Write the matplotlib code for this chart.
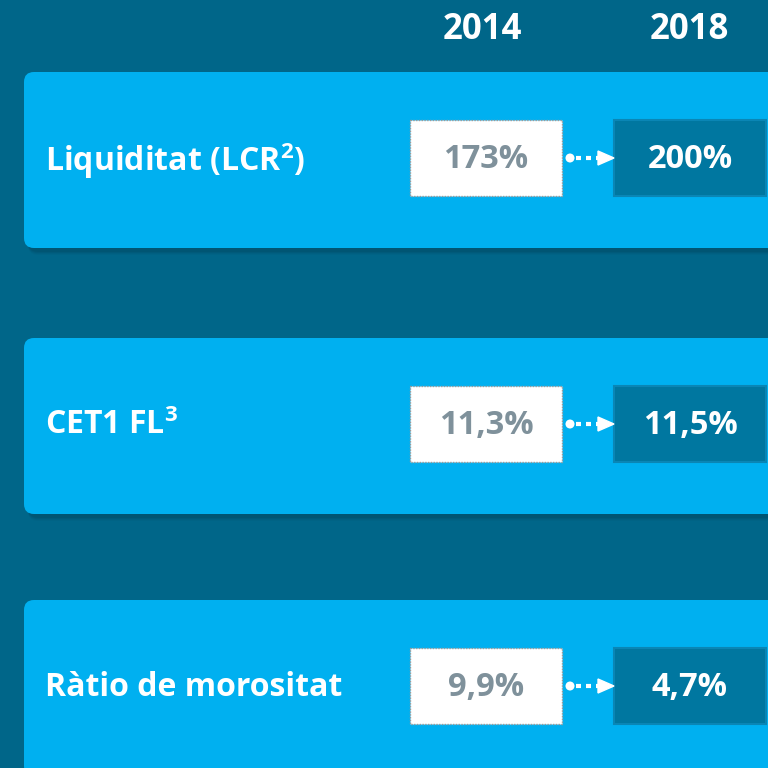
import matplotlib
matplotlib.use("Agg")
import matplotlib.pyplot as plt
from matplotlib.patches import FancyBboxPatch, Rectangle, Circle

# Data
years = ["2014", "2018"]
categories = ["Liquiditat (LCR$^2$)", "CET1 FL$^3$", "Ràtio de morositat"]
values_2014 = ["173%", "11,3%", "9,9%"]
values_2018 = ["200%", "11,5%", "4,7%"]

BG = "#006689"
PANEL = "#00b0f0"
DARK = "#0077a0"
GRAY_TXT = "#7f919b"
FONT = ["Open Sans", "DejaVu Sans"]

plt.rcParams["mathtext.fontset"] = "custom"
plt.rcParams["mathtext.rm"] = "Open Sans:bold"
plt.rcParams["mathtext.it"] = "Open Sans:bold"
plt.rcParams["mathtext.bf"] = "Open Sans:bold"

fig = plt.figure(figsize=(7.68, 7.68), dpi=100)
fig.patch.set_facecolor(BG)
ax = fig.add_axes([0, 0, 1, 1])
ax.set_xlim(0, 768)
ax.set_ylim(768, 0)
ax.axis("off")
ax.set_facecolor(BG)

panel_tops = [72, 338, 600]
panel_h = 176
box_w, box_h = 152, 76
x_old, x_new = 410, 614

# headers
for yr, xc in zip(years, [x_old + box_w / 2 - 4, x_new + box_w / 2 - 1]):
    ax.text(xc, 30, yr, color="white", fontsize=25, fontweight="bold",
            ha="center", va="center", family=FONT)

for i, (cat, v0, v1) in enumerate(zip(categories, values_2014, values_2018)):
    top = panel_tops[i]
    # shadow
    for k, a in enumerate([0.10, 0.08, 0.06, 0.04]):
        sh = FancyBboxPatch((24 + 4, top + 4 + k), 800, panel_h,
                            boxstyle="round,pad=0,rounding_size=10",
                            facecolor="#002838", edgecolor="none", alpha=a, zorder=1)
        ax.add_patch(sh)
    p = FancyBboxPatch((24, top), 800, panel_h,
                       boxstyle="round,pad=0,rounding_size=10",
                       facecolor=PANEL, edgecolor="none", zorder=2)
    ax.add_patch(p)
    yc = top + 86
    ax.text(45, yc - 2, cat, color="white", fontsize=23, fontweight="bold",
            ha="left", va="center_baseline", family=FONT, zorder=5)
    # old box
    ax.add_patch(Rectangle((x_old, yc - box_h / 2), box_w, box_h, facecolor="white",
                           edgecolor="#9a9a9a", linewidth=1, linestyle=(0, (1, 1)), zorder=3))
    ax.text(x_old + box_w / 2, yc + 1, v0, color=GRAY_TXT, fontsize=23.5, fontweight="bold",
            ha="center", va="center", family=FONT, zorder=5)
    # new box
    ax.add_patch(Rectangle((x_new, yc - box_h / 2), box_w, box_h, facecolor=DARK,
                           edgecolor="#0a86b5", linewidth=1.5, zorder=3))
    ax.text(x_new + box_w / 2, yc + 1, v1, color="white", fontsize=23.5, fontweight="bold",
            ha="center", va="center", family=FONT, zorder=5)
    # arrow
    ax.add_patch(Circle((570, yc), 4.5, facecolor="white", edgecolor="none", zorder=4))
    ax.plot([576, 600], [yc, yc], color="white", linewidth=3, linestyle=(0, (1.2, 1.2)),
            solid_capstyle="butt", zorder=4)
    ax.fill([598, 614, 598], [yc - 7, yc, yc + 7], color="white", zorder=4)

fig.savefig("out.png", dpi=100, facecolor=BG)
